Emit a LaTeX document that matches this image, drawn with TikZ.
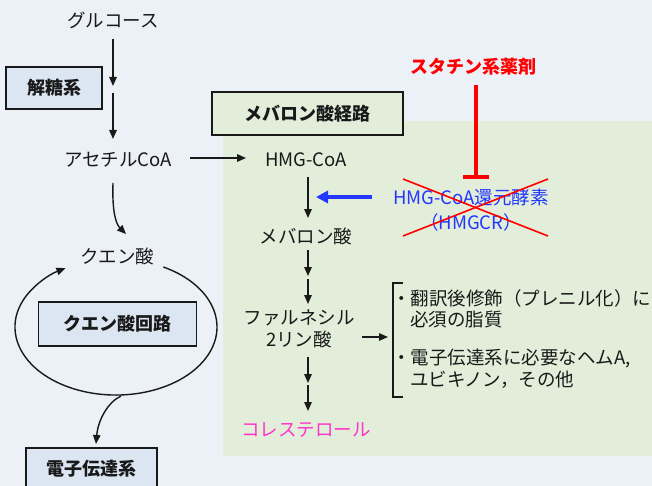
\documentclass[tikz,border=0pt]{standalone}
\usepackage{fontspec}
\setmainfont{Noto Sans CJK JP}
\usetikzlibrary{arrows.meta}
\definecolor{bgc}{RGB}{236,240,247}
\definecolor{greenbg}{RGB}{226,238,217}
\definecolor{bluebox}{RGB}{220,230,242}
\definecolor{enzblue}{RGB}{35,55,255}
\definecolor{statred}{RGB}{255,0,0}
\definecolor{cholpink}{RGB}{255,51,204}
\definecolor{txtc}{RGB}{25,25,25}
\tikzset{
  txt/.style={font=\fontsize{18.5}{22}\selectfont, text=txtc, inner sep=0pt},
  lbl/.style={font=\fontsize{18}{20}\selectfont\bfseries, text=txtc, draw=txtc, line width=1.6pt, inner sep=0pt},
  arr/.style={draw=txtc, line width=1.4pt, -{Triangle[length=9pt,width=7.5pt]}},
  blk/.style={draw=txtc, line width=1.4pt},
}
\begin{document}
\begin{tikzpicture}[x=1pt,y=-1pt]
\fill[bgc] (0,0) rectangle (652,486);
\useasboundingbox (0,0) rectangle (652,486);
\fill[greenbg] (223,121) rectangle (652,456);

% boxes
\node[lbl, fill=bluebox, minimum width=96pt, minimum height=42pt] (glyco) at (54,88) {解糖系};
\node[lbl, fill=bluebox, minimum width=158pt, minimum height=44pt] (tca) at (117.5,324) {クエン酸回路};
\node[lbl, fill=bluebox, minimum width=131pt, minimum height=42pt] (etc) at (91.5,469) {電子伝達系};
\node[lbl, fill=greenbg, minimum width=191pt, minimum height=43pt] (mevp) at (307.5,113.5) {メバロン酸経路};

% metabolites
\node[txt] (glc) at (113,20) {グルコース};
\node[txt] (acoa) at (118,160) {アセチルCoA};
\node[txt] (cit) at (117,256) {クエン酸};
\node[txt] (hmg) at (306,160) {HMG-CoA};
\node[txt] (mev) at (306,236) {メバロン酸};
\node[txt, align=center] (fpp) at (299,329) {ファルネシル\\2リン酸};
\node[txt, text=cholpink] (chol) at (306,430) {コレステロール};

% glucose -> acetyl-CoA (two steps)
\coordinate (g0) at (113,39);
\coordinate (g1) at (113,86);
\coordinate (g2) at (113,93);
\coordinate (g3) at (113,139);
\draw[arr] (g0) -- (g1);
\draw[arr] (g2) -- (g3);

% acetyl-CoA -> HMG-CoA
\coordinate (h0) at (190,158);
\coordinate (h1) at (246,158);
\draw[arr] (h0) -- (h1);

% acetyl-CoA -> citrate
\coordinate (c0) at (113,183);
\coordinate (c1) at (126,234);
\draw[arr] (c0) .. controls (112,212) and (116,224) .. (c1);

% TCA cycle ellipse
\draw[arr] (163.4,267) arc[start angle=-62, end angle=240, x radius=101, y radius=68];

% TCA -> ETC
\coordinate (e0) at (121,396);
\coordinate (e1) at (96,444);
\draw[arr] (e0) .. controls (108,402) and (98,420) .. (e1);

% HMG-CoA -> mevalonate
\coordinate (m0) at (308,177);
\coordinate (m1) at (308,218);
\draw[arr] (m0) -- (m1);

% mevalonate -> FPP (two steps)
\coordinate (f0) at (308,250);
\coordinate (f1) at (308,276);
\coordinate (f2) at (308,279);
\coordinate (f3) at (308,304);
\draw[arr] (f0) -- (f1);
\draw[arr] (f2) -- (f3);

% FPP -> cholesterol (two steps)
\coordinate (k0) at (308,357);
\coordinate (k1) at (308,383);
\coordinate (k2) at (308,385);
\coordinate (k3) at (308,411);
\draw[arr] (k0) -- (k1);
\draw[arr] (k2) -- (k3);

% enzyme
\node[txt, text=enzblue, align=center, font=\fontsize{18.5}{25}\selectfont] (enz) at (471,210.5) {HMG-CoA還元酵素\\（HMGCR）};
\coordinate (b0) at (372,197);
\coordinate (b1) at (316,197);
\draw[draw=enzblue, line width=3.2pt, -{Triangle[length=12pt,width=12pt]}] (b0) -- (b1);
\draw[statred, line width=1.6pt] (403,179) -- (548,236);
\draw[statred, line width=1.6pt] (403,236) -- (548,179);

% statin
\node[font=\fontsize{18}{20}\selectfont\bfseries, text=statred, inner sep=0pt] (stat) at (473,67) {スタチン系薬剤};
\coordinate (s0) at (476,85);
\coordinate (s1) at (476,177);
\draw[statred, line width=4pt] (s0) -- (s1);
\draw[statred, line width=4pt] (463,177) -- (489,177);

% FPP -> products
\coordinate (p0) at (362,337);
\coordinate (p1) at (388,337);
\draw[arr] (p0) -- (p1);
\draw[blk] (403,283) -- (393,283) -- (393,397) -- (403,397);
\node[txt, anchor=west] (t1) at (392,298) {・翻訳後修飾（プレニル化）に};
\node[txt, anchor=west] (t2) at (410,320) {必須の脂質};
\node[txt, anchor=west] (t3) at (392,358) {・電子伝達系に必要なヘムA,};
\node[txt, anchor=west] (t4) at (410,380) {ユビキノン，その他};
\end{tikzpicture}
\end{document}
